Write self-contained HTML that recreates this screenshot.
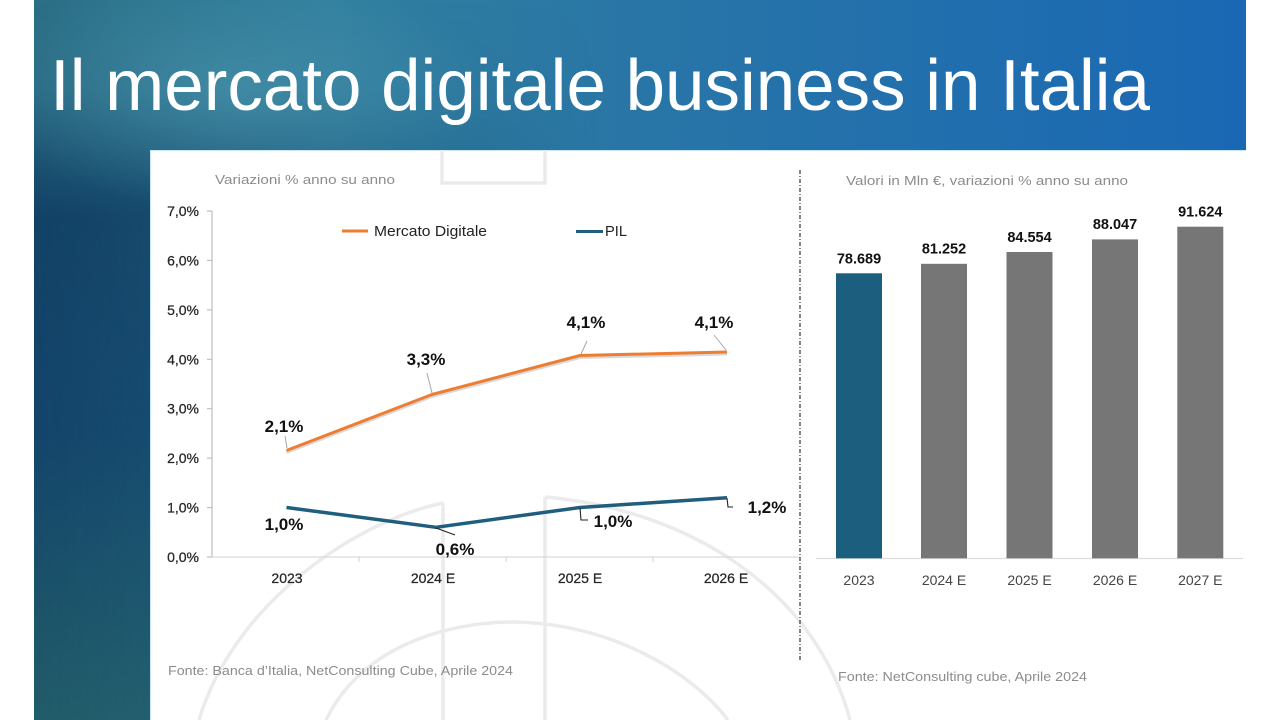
<!DOCTYPE html>
<html>
<head>
<meta charset="utf-8">
<style>
  html,body{margin:0;padding:0;background:#fff;}
  body{width:1280px;height:720px;overflow:hidden;}
  svg{display:block;font-family:"Liberation Sans",Arial,sans-serif;}
</style>
</head>
<body>
<svg width="1280" height="720" viewBox="0 0 1280 720" xmlns="http://www.w3.org/2000/svg">
  <defs>
    <linearGradient id="bgH" x1="0" y1="0" x2="1" y2="0">
      <stop offset="0" stop-color="#2b6f86"/>
      <stop offset="0.25" stop-color="#317f9f"/>
      <stop offset="0.55" stop-color="#2774a8"/>
      <stop offset="1" stop-color="#1a68b4"/>
    </linearGradient>
    <linearGradient id="darkV" x1="0" y1="0" x2="0" y2="720" gradientUnits="userSpaceOnUse">
      <stop offset="0" stop-color="#0f3d62" stop-opacity="0"/>
      <stop offset="0.12" stop-color="#0f3d62" stop-opacity="0.15"/>
      <stop offset="0.3" stop-color="#113f64" stop-opacity="0.95"/>
      <stop offset="0.6" stop-color="#13446a" stop-opacity="1"/>
      <stop offset="1" stop-color="#215c69" stop-opacity="1"/>
    </linearGradient>
    <linearGradient id="darkFade" x1="34" y1="0" x2="600" y2="0" gradientUnits="userSpaceOnUse">
      <stop offset="0" stop-color="#fff" stop-opacity="1"/>
      <stop offset="0.3" stop-color="#fff" stop-opacity="0.8"/>
      <stop offset="1" stop-color="#fff" stop-opacity="0"/>
    </linearGradient>
    <mask id="m1"><rect x="0" y="0" width="1280" height="720" fill="url(#darkFade)"/></mask>
    <radialGradient id="hl" cx="230" cy="90" r="260" gradientUnits="userSpaceOnUse" gradientTransform="translate(230 90) scale(1 0.45) translate(-230 -90)">
      <stop offset="0" stop-color="#5aa6bb" stop-opacity="0.45"/>
      <stop offset="1" stop-color="#5aa6bb" stop-opacity="0"/>
    </radialGradient>
  </defs>

  <!-- background -->
  <rect x="0" y="0" width="1280" height="720" fill="#ffffff"/>
  <rect x="34" y="0" width="1212" height="720" fill="url(#bgH)"/>
  <rect x="34" y="0" width="1212" height="720" fill="url(#darkV)" mask="url(#m1)"/>
  <rect x="34" y="0" width="700" height="200" fill="url(#hl)"/>

  <!-- title -->
  <text x="50" y="110" font-size="72" fill="#ffffff" textLength="1100" lengthAdjust="spacingAndGlyphs">Il mercato digitale business in Italia</text>

  <!-- white panel -->
  <rect x="150" y="150" width="1130" height="570" fill="#ffffff"/>
  <line x1="150" y1="150.5" x2="1246" y2="150.5" stroke="#c9e6f4" stroke-width="1"/>
  <line x1="150.5" y1="150" x2="150.5" y2="720" stroke="#c9e6f4" stroke-width="1"/>

  <!-- watermark -->
  <g fill="none" stroke="#ebebeb" stroke-width="3.5">
    <path d="M442,150 L442,183 L545,183 L545,150"/>
    <line x1="443" y1="503" x2="443" y2="720"/>
    <line x1="545" y1="497" x2="545" y2="720"/>
    <path d="M443,503 C 360,520 235,600 199,720"/>
    <path d="M545,497 C 690,510 815,590 850,720"/>
    <path d="M326,720 C 360,650 440,622 515,622 C 610,624 690,670 728,720"/>
  </g>

  <!-- LEFT CHART -->
  <text x="215" y="184" font-size="13" fill="#8c8c8c" textLength="180" lengthAdjust="spacingAndGlyphs">Variazioni % anno su anno</text>

  <!-- axes -->
  <line x1="212" y1="211" x2="212" y2="557" stroke="#bfbfbf" stroke-width="1.2"/>
  <line x1="212" y1="557" x2="800" y2="557" stroke="#d9d9d9" stroke-width="1.2"/>
  <g stroke="#bfbfbf" stroke-width="1.2">
    <line x1="207" y1="211" x2="212" y2="211"/>
    <line x1="207" y1="260.4" x2="212" y2="260.4"/>
    <line x1="207" y1="309.9" x2="212" y2="309.9"/>
    <line x1="207" y1="359.3" x2="212" y2="359.3"/>
    <line x1="207" y1="408.7" x2="212" y2="408.7"/>
    <line x1="207" y1="458.1" x2="212" y2="458.1"/>
    <line x1="207" y1="507.6" x2="212" y2="507.6"/>
    <line x1="207" y1="557" x2="212" y2="557"/>
  </g>
  <g stroke="#d9d9d9" stroke-width="1.2">
    <line x1="359" y1="557" x2="359" y2="562"/>
    <line x1="506" y1="557" x2="506" y2="562"/>
    <line x1="653" y1="557" x2="653" y2="562"/>
  </g>
  <g font-size="14" fill="#262626" text-anchor="end" stroke="#262626" stroke-width="0.25">
    <text x="199" y="216">7,0%</text>
    <text x="199" y="265.4">6,0%</text>
    <text x="199" y="314.9">5,0%</text>
    <text x="199" y="364.3">4,0%</text>
    <text x="199" y="413.7">3,0%</text>
    <text x="199" y="463.1">2,0%</text>
    <text x="199" y="512.6">1,0%</text>
    <text x="199" y="562">0,0%</text>
  </g>
  <g font-size="14" fill="#262626" text-anchor="middle" stroke="#262626" stroke-width="0.25">
    <text x="287" y="583">2023</text>
    <text x="433" y="583">2024 E</text>
    <text x="580" y="583">2025 E</text>
    <text x="726" y="583">2026 E</text>
  </g>

  <!-- legend -->
  <line x1="342" y1="231" x2="368" y2="231" stroke="#ed7d31" stroke-width="3"/>
  <text x="374" y="236" font-size="14.5" fill="#222" textLength="113" lengthAdjust="spacingAndGlyphs">Mercato Digitale</text>
  <line x1="576" y1="231.5" x2="603" y2="231.5" stroke="#1f5e7e" stroke-width="3"/>
  <text x="605" y="236" font-size="14.5" fill="#222" textLength="22" lengthAdjust="spacingAndGlyphs">PIL</text>

  <!-- orange series -->
  <polyline points="286.5,452.5 432,396.5 580,357.5 727,354" fill="none" stroke="#cfcfcf" stroke-width="3" stroke-opacity="0.8"/>
  <polyline points="286.5,450.5 432,394.5 580,355.5 727,352" fill="none" stroke="#ed7d31" stroke-width="3" stroke-linejoin="round"/>
  <!-- orange leaders -->
  <g stroke="#a6a6a6" stroke-width="1" fill="none">
    <line x1="285" y1="436" x2="287" y2="448"/>
    <line x1="427" y1="373" x2="432" y2="393"/>
    <line x1="587" y1="341" x2="581" y2="354"/>
    <line x1="714" y1="335" x2="726" y2="350"/>
  </g>
  <g font-size="17" font-weight="bold" fill="#111" text-anchor="middle">
    <text x="284" y="432">2,1%</text>
    <text x="426" y="365">3,3%</text>
    <text x="586" y="328">4,1%</text>
    <text x="714" y="328">4,1%</text>
  </g>

  <!-- PIL series -->
  <polyline points="286.5,507.5 436,527.3 580,507.5 727,497.7" fill="none" stroke="#1f5e7e" stroke-width="3.5" stroke-linejoin="round"/>
  <g stroke="#222" stroke-width="1.1" fill="none">
    <line x1="436" y1="528" x2="455" y2="535"/>
    <polyline points="580,508 581,520 588,520"/>
    <polyline points="727,498 728,507 733,507"/>
  </g>
  <g font-size="17" font-weight="bold" fill="#111" text-anchor="middle">
    <text x="284" y="530">1,0%</text>
    <text x="455" y="555">0,6%</text>
    <text x="613" y="527">1,0%</text>
    <text x="767" y="513">1,2%</text>
  </g>

  <text x="168" y="675" font-size="13" fill="#8c8c8c" textLength="345" lengthAdjust="spacingAndGlyphs">Fonte: Banca d’Italia, NetConsulting Cube, Aprile 2024</text>

  <!-- separator -->
  <line x1="800" y1="170" x2="800" y2="660" stroke="#444" stroke-width="1.3" stroke-dasharray="4 2 1 2"/>

  <!-- RIGHT CHART -->
  <text x="846" y="185" font-size="13" fill="#8c8c8c" textLength="282" lengthAdjust="spacingAndGlyphs">Valori in Mln €, variazioni % anno su anno</text>

  <line x1="816" y1="558.5" x2="1243" y2="558.5" stroke="#dddddd" stroke-width="1.2"/>
  <rect x="836" y="273.3" width="46" height="285" fill="#1b5e7e"/>
  <rect x="921" y="263.8" width="46" height="294.5" fill="#767676"/>
  <rect x="1006.5" y="252" width="46" height="306.3" fill="#767676"/>
  <rect x="1092" y="239.4" width="46" height="318.9" fill="#767676"/>
  <rect x="1177.3" y="226.7" width="46" height="331.6" fill="#767676"/>

  <g font-size="14.5" font-weight="bold" fill="#111" text-anchor="middle">
    <text x="859" y="263.5">78.689</text>
    <text x="944" y="253.5">81.252</text>
    <text x="1029.5" y="242">84.554</text>
    <text x="1115" y="229">88.047</text>
    <text x="1200.3" y="216.5">91.624</text>
  </g>
  <g font-size="14" fill="#444" text-anchor="middle">
    <text x="859" y="585">2023</text>
    <text x="944" y="585">2024 E</text>
    <text x="1029.5" y="585">2025 E</text>
    <text x="1115" y="585">2026 E</text>
    <text x="1200.3" y="585">2027 E</text>
  </g>

  <text x="838" y="681" font-size="13" fill="#8c8c8c" textLength="249" lengthAdjust="spacingAndGlyphs">Fonte: NetConsulting cube, Aprile 2024</text>
</svg>
</body>
</html>
